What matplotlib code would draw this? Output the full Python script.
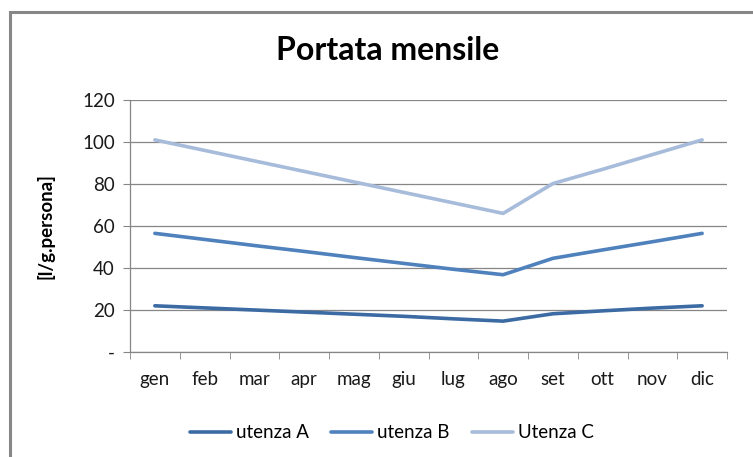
import matplotlib
matplotlib.use("Agg")
import matplotlib.pyplot as plt
from matplotlib.patches import Rectangle

months = ["gen", "feb", "mar", "apr", "mag", "giu", "lug", "ago", "set", "ott", "nov", "dic"]
utenza_a = [22, 21, 20, 19, 18, 17, 15.8, 14.7, 18.2, 19.6, 20.9, 22]
utenza_b = [56.5, 53.6, 50.7, 47.9, 45.0, 42.2, 39.4, 36.8, 44.6, 48.6, 52.5, 56.5]
utenza_c = [101, 96, 91, 86, 81, 76, 71, 66, 80.2, 87, 94, 101]
series_names = ["utenza A", "utenza B", "Utenza C"]
colors = ["#3C6AA3", "#4F81BD", "#A7BBDA"]
yticks = [0, 20, 40, 60, 80, 100, 120]
ytick_labels = ["-", "20", "40", "60", "80", "100", "120"]

plt.rcParams['font.family'] = ['Lato', 'DejaVu Sans']

W, H = 753, 457
fig = plt.figure(figsize=(W / 100, H / 100), dpi=100)

# outer frame
fig.patches.append(Rectangle((10 / W, -0.05), 1.2, (H - 12) / H + 0.05, transform=fig.transFigure,
                             fill=False, edgecolor="#878787", linewidth=2.2))

ax = fig.add_axes([130 / W, 1 - 352 / H, (727 - 130) / W, (352 - 100) / H])
x = list(range(len(months)))
for vals, name, c in zip([utenza_a, utenza_b, utenza_c], series_names, colors):
    ax.plot(x, vals, color=c, linewidth=2.6, label=name, solid_capstyle="round")

fs = 13.5
ax.set_xlim(-0.5, len(months) - 0.5)
ax.set_ylim(0, 120)
ax.set_yticks(yticks)
ax.set_yticklabels(ytick_labels, fontsize=fs, color="#1a1a1a")
ax.set_xticks(x)
ax.set_xticklabels(months, fontsize=fs, color="#1a1a1a")
ax.set_xticks([i - 0.5 for i in range(len(months) + 1)], minor=True)
ax.tick_params(axis="x", which="major", length=0, pad=14)
ax.tick_params(axis="x", which="minor", length=5, color="#868686", direction="out")
ax.tick_params(axis="y", length=5, color="#868686", pad=6)
ax.yaxis.grid(True, color="#868686", linewidth=0.9)
ax.set_axisbelow(True)
for s in ["top", "right"]:
    ax.spines[s].set_visible(False)
for s in ["left", "bottom"]:
    ax.spines[s].set_color("#868686")
    ax.spines[s].set_linewidth(0.9)

ax.set_ylabel("[l/g.persona]", fontsize=13.5, fontweight="bold", labelpad=20)

fig.text(388 / W, 1 - 50 / H, "Portata mensile", ha="center", va="center",
         fontsize=23, fontweight="bold")

leg = fig.legend(loc="center", bbox_to_anchor=(392 / W, 1 - 433 / H), ncol=3, frameon=False,
                 fontsize=fs, handlelength=2.2, handletextpad=0.27, columnspacing=1.17)

fig.savefig("out.png", dpi=100)
